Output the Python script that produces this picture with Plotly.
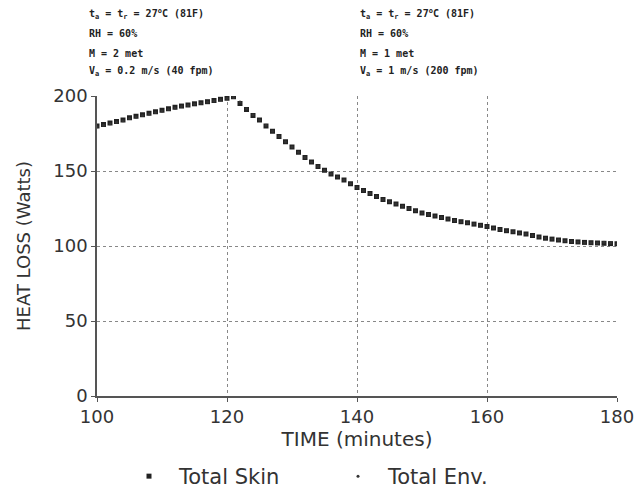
import plotly.graph_objects as go

time_min = list(range(100, 181))
total_skin = [180, 181, 182, 183, 184, 185.5, 186.5, 187.5, 188.5, 189.5,
              190.5, 191.5, 192.5, 193.3, 194, 194.8, 195.5, 196.2, 197, 197.8,
              198.5, 199.5, 195, 191, 187, 184, 180, 176.5, 173, 169.5,
              166, 162.5, 159, 156, 153, 150.5, 148, 146, 144, 141.5,
              139, 137, 135, 133, 131, 129.5, 128, 126.5, 125, 123.5,
              122, 121, 120, 119, 118, 117, 116.2, 115.5, 114.6, 113.8,
              113, 112, 111, 110.2, 109.5, 108.7, 108, 107, 106, 105.2,
              104.6, 104, 103.5, 103, 102.7, 102.4, 102.2, 102, 101.8, 101.6, 101.5]
total_env = [179.5, 180.5, 181.5, 182.5, 183.5, 185, 186, 187, 188, 189,
             190, 191, 192, 193, 193.7, 194.5, 195.2, 196, 196.7, 197.5,
             198.3, 199, 196, 191.5, 187.5, 184, 180.5, 176.5, 173, 169.5,
             166, 162.5, 159, 156, 153, 150.5, 148, 146, 144, 141.5,
             139, 137, 135, 133, 131, 129.5, 128, 126.5, 125, 123.5,
             122, 121, 120, 119, 118, 117, 116.2, 115.5, 114.6, 113.8,
             113, 112, 111, 110.2, 109.5, 108.7, 108, 107, 106, 105.2,
             104.6, 104, 103.5, 103, 102.7, 102.4, 102.2, 102, 102.5, 102, 101.5]

x_ticks = [100, 120, 140, 160, 180]
y_ticks = [0, 50, 100, 150, 200]

left_notes = ["t<sub>a</sub> = t<sub>r</sub> = 27<sup>o</sup>C (81F)", "RH = 60%",
              "M = 2 met", "V<sub>a</sub> = 0.2 m/s (40 fpm)"]
right_notes = ["t<sub>a</sub> = t<sub>r</sub> = 27<sup>o</sup>C (81F)", "RH = 60%",
               "M = 1 met", "V<sub>a</sub> = 1 m/s (200 fpm)"]

W, H = 639, 490
ml, mr, mt, mb = 97, 22, 96, 94
pw, ph = W - ml - mr, H - mt - mb

def px_x(p):
    return (p - ml) / pw

def px_y(p):
    return 1 - (p - mt) / ph

fig = go.Figure()
fig.add_trace(go.Scatter(x=time_min, y=total_skin, mode="markers", name="Total Skin",
                         marker=dict(symbol="square", size=5, color="#222")))
fig.add_trace(go.Scatter(x=time_min, y=total_env, mode="markers", name="Total Env.",
                         marker=dict(symbol="circle", size=3, color="#333")))

note_y = [14, 33, 53, 72]
note_font = dict(family="DejaVu Sans Mono", size=10, color="#222")
for i, t in enumerate(left_notes):
    fig.add_annotation(text="<b>" + t + "</b>", x=px_x(87), y=px_y(note_y[i]), xref="paper",
                       yref="paper", showarrow=False, xanchor="left", yanchor="middle",
                       font=note_font)
for i, t in enumerate(right_notes):
    fig.add_annotation(text="<b>" + t + "</b>", x=px_x(358), y=px_y(note_y[i]), xref="paper",
                       yref="paper", showarrow=False, xanchor="left", yanchor="middle",
                       font=note_font)

fig.update_layout(
    width=W, height=H,
    margin=dict(l=ml, r=mr, t=mt, b=mb, autoexpand=False),
    paper_bgcolor="white", plot_bgcolor="white",
    font=dict(family="DejaVu Sans", size=18, color="#333"),
    showlegend=True,
    legend=dict(orientation="h", x=px_x(119), y=px_y(456), xanchor="left", yanchor="top",
                font=dict(size=21), itemwidth=50, entrywidth=144, tracegroupgap=0),
    xaxis=dict(range=[100, 180], tickvals=x_ticks, showgrid=True, gridcolor="#888",
               griddash="dot", gridwidth=1, showline=True, linecolor="#555", linewidth=1.5,
               ticks="outside", ticklen=4, tickcolor="#555", zeroline=False, automargin=False,
               title=dict(text="TIME (minutes)", standoff=6, font=dict(size=20))),
    yaxis=dict(range=[0, 200], tickvals=y_ticks, showgrid=True, gridcolor="#888",
               griddash="dot", gridwidth=1, showline=True, linecolor="#555", linewidth=1.5,
               ticks="outside", ticklen=4, tickcolor="#555", zeroline=False, automargin=False,
               title=dict(text="HEAT LOSS (Watts)", standoff=18, font=dict(size=18))),
)

fig.write_html("out.html", config={"displayModeBar": False},
               post_script="document.body.style.margin='0';")
